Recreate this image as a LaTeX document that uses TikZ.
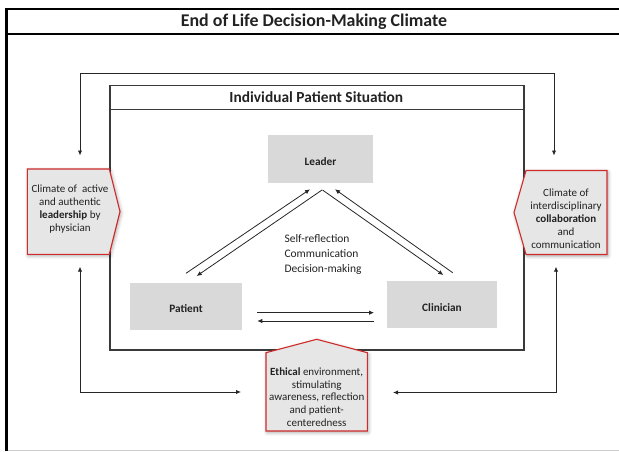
\documentclass[tikz,border=0pt]{standalone}
\usepackage{fontspec}
\setmainfont{Carlito}
\usetikzlibrary{arrows.meta,shadows.blur}
\definecolor{boxgray}{HTML}{D9D9D9}
\definecolor{sidefill}{HTML}{E7E6E6}
\definecolor{sidered}{HTML}{CF2B2B}
\definecolor{txt}{HTML}{222222}
\definecolor{framegray}{HTML}{3A3A3A}
\begin{document}
\begin{tikzpicture}[x=1pt,y=-1pt,
  tipa/.tip={Latex[length=5pt,width=4.5pt]},
  smalltxt/.style={text=txt,font=\fontsize{11}{13}\selectfont,align=center,inner sep=0pt},
  graybox/.style={fill=boxgray,draw=none,inner sep=0pt},
  boxlabel/.style={text=txt,font=\fontsize{11.3}{13}\selectfont\bfseries,inner sep=0pt},
  sideshape/.style={fill=sidefill,draw=sidered,line width=1.1pt,line join=miter,
    blur shadow={shadow xshift=1pt,shadow yshift=-1.5pt,shadow blur radius=3.5pt,shadow opacity=35}},
  conn/.style={line width=0.9pt,draw=black!85},
  tri/.style={line width=0.8pt,draw=black!85,-tipa},
]
\useasboundingbox (0,0) rectangle (619,452);
% outer frame
\draw[line width=1pt,black!20] (6.5,450) -- (620,450);
\draw[line width=2.5pt] (6.5,451) -- (6.5,9) -- (620,9);
\draw[line width=1.8pt] (6.5,34.3) -- (620,34.3);
\node[text=txt,font=\fontsize{17.9}{20}\selectfont\bfseries,inner sep=0pt] (title) at (314,21.5) {End of Life Decision-Making Climate};
% loop connectors
\coordinate (ltop) at (80,155.5);
\coordinate (rtop) at (554,155.5);
\coordinate (lbot) at (80,266.7);
\coordinate (rbot) at (556,266.7);
\coordinate (bleft) at (241,392);
\coordinate (bright) at (393,392.5);
\draw[conn,tipa-tipa] (ltop) -- (80,73) -- (554,73) -- (rtop);
\draw[conn,tipa-tipa] (lbot) -- (80,392) -- (bleft);
\draw[conn,tipa-tipa] (rbot) -- (556,392.5) -- (bright);
% individual patient situation
\draw[line width=1.3pt,framegray] (110,85.5) rectangle (524,350);
\draw[line width=1.3pt,framegray] (110,109.5) -- (524,109.5);
\node[text=txt,font=\fontsize{15.4}{17}\selectfont\bfseries,inner sep=0pt] (header) at (316.3,97.5) {Individual Patient Situation};
% actor boxes
\node[graybox,minimum width=105pt,minimum height=48pt] (leader) at (320.5,159) {};
\node[boxlabel] (leadertxt) at ([yshift=-3pt]leader.center) {Leader};
\node[graybox,minimum width=112pt,minimum height=47pt] (patient) at (186,306) {};
\node[boxlabel] (patienttxt) at ([yshift=-3pt]patient.center) {Patient};
\node[graybox,minimum width=110pt,minimum height=47pt] (clinician) at (442,304.5) {};
\node[boxlabel] (cliniciantxt) at ([yshift=-3.5pt]clinician.center) {Clinician};
% triangle arrows
\coordinate (p1) at (186,273.3); \coordinate (l1) at (310,189.3);
\coordinate (l2) at (322,190); \coordinate (p2) at (196.7,276);
\coordinate (l3) at (322.5,190); \coordinate (c3) at (443.3,275);
\coordinate (c4) at (452.7,272.7); \coordinate (l4) at (335,189.3);
\draw[tri] (p1) -- (l1);
\draw[tri] (l2) -- (p2);
\draw[tri] (l3) -- (c3);
\draw[tri] (c4) -- (l4);
\coordinate (h1) at (257.3,312.7); \coordinate (h2) at (374,312.7);
\coordinate (h3) at (374,321); \coordinate (h4) at (257.3,321);
\draw[tri] (h1) -- (h2);
\draw[tri] (h3) -- (h4);
\node[text=txt,font=\fontsize{11.5}{15}\selectfont,align=left,anchor=west,inner sep=0pt] (mid) at (284.3,254.3) {Self-reflection\\Communication\\Decision-making};
% side shapes
\path[sideshape] (27.3,169) -- (109.3,169) -- (120,211.5) -- (109.3,254.3) -- (27.3,254.3) -- cycle;
\node[smalltxt] (lefttxt) at (70,209) {Climate of~ active\\and authentic\\\textbf{leadership} by\\physician};
\path[sideshape] (526,170.5) -- (607,170.5) -- (607,254.5) -- (526,254.5) -- (514,212.5) -- cycle;
\node[smalltxt] (righttxt) at (566,218.5) {Climate of\\interdisciplinary\\\textbf{collaboration}\\and\\communication};
\path[sideshape] (266,352.7) -- (316.7,339.3) -- (367.3,352.7) -- (367.3,431) -- (266,431) -- cycle;
\node[smalltxt,font=\fontsize{11}{12.7}\selectfont] (bottomtxt) at (316.7,397) {\textbf{Ethical} environment,\\stimulating\\awareness, reflection\\and patient-\\centeredness};
\end{tikzpicture}
\end{document}
